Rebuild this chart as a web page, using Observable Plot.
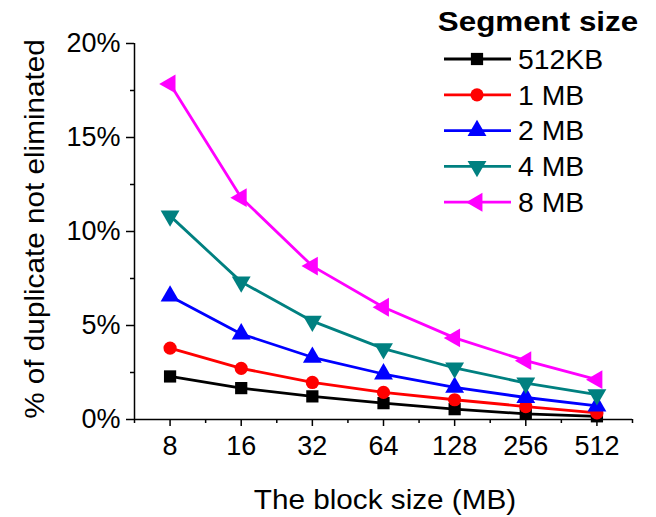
<!DOCTYPE html>
<html>
<head>
<meta charset="utf-8">
<script src="https://cdn.jsdelivr.net/npm/d3@7"></script>
<script src="https://cdn.jsdelivr.net/npm/@observablehq/plot@0.6"></script>
<style>
  body { margin: 0; background: white; }
  #chart { width: 656px; height: 517px; }
</style>
</head>
<body>
<div id="chart"></div>
<script>
// Block sizes (x categories)
const blockSizes = ["8", "16", "32", "64", "128", "256", "512"];
// Series names and values (% of duplicate not eliminated)
const seriesNames = ["512KB", "1 MB", "2 MB", "4 MB", "8 MB"];
const seg512KB = [2.29, 1.67, 1.23, 0.87, 0.55, 0.30, 0.17];
const seg1MB   = [3.80, 2.72, 1.97, 1.44, 1.05, 0.69, 0.35];
const seg2MB   = [6.56, 4.55, 3.31, 2.42, 1.71, 1.17, 0.72];
const seg4MB   = [10.83, 7.32, 5.23, 3.77, 2.74, 1.94, 1.32];
const seg8MB   = [17.85, 11.80, 8.16, 5.97, 4.34, 3.13, 2.12];
const yTicks = [0, 5, 10, 15, 20];
const yMinorTicks = [2.5, 7.5, 12.5, 17.5];
const seriesColors = ["#000000", "#ff0000", "#0000ff", "#008080", "#ff00ff"];
const xTitle = "The block size (MB)";
const yTitle = "% of duplicate not eliminated";
const legendTitle = "Segment size";

const seriesValues = [seg512KB, seg1MB, seg2MB, seg4MB, seg8MB];

// custom triangle symbols
function tri(dir) {
  return {
    draw(ctx, size) {
      const s = Math.sqrt(size / (Math.sqrt(3) / 4));
      const h = s * Math.sqrt(3) / 2;
      const pts = {
        up:   [[0, -h * 2 / 3], [s / 2, h / 3], [-s / 2, h / 3]],
        down: [[0, h * 2 / 3], [s / 2, -h / 3], [-s / 2, -h / 3]],
        left: [[-h * 2 / 3, 0], [h / 3, -s / 2], [h / 3, s / 2]]
      }[dir];
      ctx.moveTo(pts[0][0], pts[0][1]);
      ctx.lineTo(pts[1][0], pts[1][1]);
      ctx.lineTo(pts[2][0], pts[2][1]);
      ctx.closePath();
    }
  };
}
const seriesSymbols = [d3.symbolSquare, d3.symbolCircle, tri("up"), tri("down"), tri("left")];
const seriesR = [6.9, 6.6, 7.0, 7.0, 7.0];

const data = [];
seriesNames.forEach((name, s) => {
  seriesValues[s].forEach((v, i) => data.push({series: name, i, v}));
});

const FONT = "'Liberation Sans', Arial, sans-serif";

const marks = [
  Plot.axisY({ticks: yTicks, tickFormat: d => d + "%", tickSize: 8, tickPadding: 6, fontSize: 27, strokeWidth: 1.5, label: null}),
  Plot.axisY({ticks: yMinorTicks, tickFormat: () => "", tickSize: 4, strokeWidth: 1.5, label: null}),
  Plot.axisX({ticks: d3.range(blockSizes.length), tickFormat: i => blockSizes[i], tickSize: 7, tickPadding: 9, fontSize: 27, strokeWidth: 1.5, label: null}),
  Plot.axisX({ticks: d3.range(blockSizes.length + 1).map(k => k - 0.5), tickFormat: () => "", tickSize: 4, strokeWidth: 1.5, label: null}),
  Plot.ruleX([-0.5], {strokeWidth: 1.5}),
  Plot.ruleY([0], {strokeWidth: 1.5})
];

seriesNames.forEach((name, s) => {
  const sub = data.filter(d => d.series === name);
  marks.push(Plot.line(sub, {x: "i", y: "v", stroke: seriesColors[s], strokeWidth: 2.8}));
  marks.push(Plot.dot(sub, {x: "i", y: "v", symbol: seriesSymbols[s], r: seriesR[s], fill: seriesColors[s], stroke: "none"}));
});

const chart = Plot.plot({
  width: 656,
  height: 517,
  marginLeft: 134,
  marginRight: 24,
  marginTop: 43,
  marginBottom: 98,
  style: {fontFamily: FONT, fontSize: "27px", color: "black", background: "white"},
  x: {type: "linear", domain: [-0.5, blockSizes.length - 0.5]},
  y: {domain: [0, 20]},
  marks
});

const svg = d3.select(chart);
const g = svg.append("g").attr("font-family", FONT).attr("fill", "black");

// Axis titles (glyphs slightly widened as in the reference)
g.append("text").attr("transform", "translate(385,509) scale(1.1,1)").attr("text-anchor", "middle")
  .attr("font-size", 27).text(xTitle);
g.append("text").attr("transform", "translate(44,229) rotate(-90) scale(1.1,1)").attr("text-anchor", "middle")
  .attr("font-size", 27).text(yTitle);

// Legend inside the plot (top right)
g.append("text").attr("transform", "translate(538,31) scale(1.12,1)").attr("text-anchor", "middle")
  .attr("font-size", 28).attr("font-weight", "bold").text(legendTitle);
seriesNames.forEach((name, s) => {
  const y = 59 + s * 35.8;
  g.append("line").attr("x1", 444).attr("x2", 511).attr("y1", y).attr("y2", y)
    .attr("stroke", seriesColors[s]).attr("stroke-width", 2.8);
  g.append("path").attr("transform", `translate(477,${y})`)
    .attr("d", d3.symbol().type(seriesSymbols[s]).size(Math.PI * seriesR[s] * seriesR[s])())
    .attr("fill", seriesColors[s]);
  g.append("text").attr("transform", `translate(518,${y}) scale(1.05,1)`).attr("dy", "0.36em").attr("text-anchor", "start")
    .attr("font-size", 27).text(name);
});

document.getElementById("chart").appendChild(chart);
</script>
</body>
</html>
